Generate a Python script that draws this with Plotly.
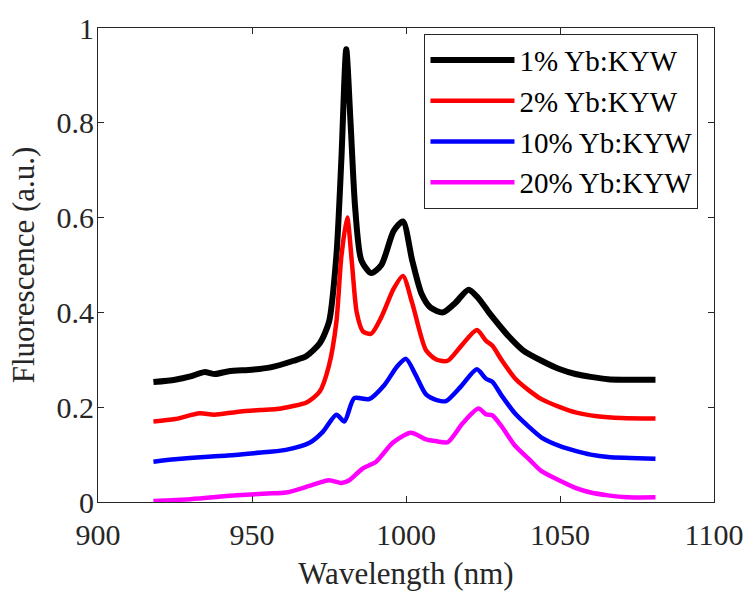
import plotly.graph_objects as go

# ---- data ----
x_1 = [918, 925, 930, 934.5, 938, 942.5, 950, 956, 963.5, 967.7, 972, 975, 977.4, 979, 980.6,
       982, 983.5, 985.5, 988.7, 992, 996, 999, 1002, 1005, 1008, 1012, 1016, 1020.3, 1023.5,
       1026.9, 1030, 1033.4, 1038, 1044, 1050, 1055, 1060, 1065.6, 1070, 1081]
y_1 = [0.253, 0.258, 0.265, 0.274, 0.270, 0.276, 0.279, 0.284, 0.298, 0.308, 0.335, 0.38, 0.52, 0.72, 0.955,
       0.80, 0.62, 0.51, 0.483, 0.50, 0.572, 0.592, 0.51, 0.44, 0.41, 0.40, 0.42, 0.448, 0.43,
       0.40, 0.375, 0.349, 0.32, 0.298, 0.28, 0.27, 0.264, 0.259, 0.258, 0.258]

x_2 = [918, 925, 933, 937.7, 945, 952.6, 958, 963, 967.7, 972, 975, 977.4, 979, 980.9, 982.5, 984,
       986, 988.7, 992, 996, 999, 1002, 1006.5, 1010, 1013.5, 1018, 1023, 1026, 1028, 1031, 1035.5,
       1040, 1044, 1050, 1055, 1062, 1070, 1081]
y_2 = [0.170, 0.175, 0.187, 0.184, 0.19, 0.194, 0.196, 0.202, 0.21, 0.233, 0.288, 0.38, 0.517, 0.60, 0.50, 0.40,
       0.36, 0.355, 0.39, 0.45, 0.477, 0.42, 0.32, 0.30, 0.298, 0.33, 0.363, 0.34, 0.33, 0.30, 0.26,
       0.235, 0.217, 0.20, 0.189, 0.181, 0.177, 0.176]

x_10 = [918, 925, 934.5, 942, 950.6, 961, 968.7, 973, 977.4, 980, 983.2, 988, 993, 997, 1000, 1003,
        1006.5, 1010, 1013, 1018, 1023, 1026, 1028, 1031, 1035.5, 1040, 1044, 1050, 1055, 1060, 1065.6, 1081]
y_10 = [0.085, 0.09, 0.095, 0.098, 0.103, 0.11, 0.125, 0.148, 0.184, 0.17, 0.219, 0.217, 0.247, 0.285, 0.302, 0.27,
        0.227, 0.215, 0.213, 0.245, 0.28, 0.26, 0.254, 0.225, 0.186, 0.158, 0.136, 0.118, 0.108, 0.10, 0.095, 0.091]

x_20 = [918, 930, 945, 955, 961, 968.7, 975, 979, 981.6, 986, 990.3, 995.7, 1001.6, 1006.5, 1010, 1013.5,
        1018.4, 1023.5, 1026, 1028, 1031, 1035.5, 1040, 1044, 1050, 1055, 1060, 1065.6, 1072, 1081]
y_20 = [0.002, 0.006, 0.014, 0.018, 0.02, 0.034, 0.046, 0.04, 0.046, 0.071, 0.085, 0.125, 0.146, 0.132, 0.128, 0.126,
        0.166, 0.197, 0.185, 0.183, 0.16, 0.118, 0.09, 0.065, 0.045, 0.03, 0.02, 0.014, 0.01, 0.01]

names = ["1% Yb:KYW", "2% Yb:KYW", "10% Yb:KYW", "20% Yb:KYW"]
colors = ["#000000", "#ff0000", "#0000ff", "#ff00ff"]
widths = [6, 4.5, 4.5, 4.5]
xs = [x_1, x_2, x_10, x_20]
ys = [y_1, y_2, y_10, y_20]

x_ticks = [900, 950, 1000, 1050, 1100]
y_ticks = [0, 0.2, 0.4, 0.6, 0.8, 1]
y_tick_text = ["0", "0.2", "0.4", "0.6", "0.8", "1"]

FONT = "Liberation Serif, Times New Roman, serif"
TXT = "#262626"

fig = go.Figure()
for i in range(4):
    fig.add_trace(go.Scatter(
        x=xs[i], y=ys[i], mode="lines", name=names[i],
        line=dict(color=colors[i], width=widths[i], shape="spline", smoothing=0.7),
    ))

axis_common = dict(
    showline=True, linecolor=TXT, linewidth=1, mirror="ticks",
    ticks="inside", ticklen=6, tickcolor=TXT, showgrid=False, zeroline=False,
    tickfont=dict(family=FONT, size=30, color=TXT),
    ticklabeloverflow="allow",
)
fig.update_xaxes(range=[900, 1100], tickvals=x_ticks, ticklabelstandoff=6,
                 title=dict(text="Wavelength (nm)", font=dict(family=FONT, size=31, color=TXT), standoff=12),
                 **axis_common)
fig.update_yaxes(range=[0, 1], tickvals=y_ticks, ticktext=y_tick_text, ticklabelstandoff=-3,
                 title=dict(text="Fluorescence (a.u.)", font=dict(family=FONT, size=31, color=TXT), standoff=12),
                 **axis_common)

fig.update_layout(
    width=754, height=596,
    margin=dict(l=98, r=33, t=11, b=91),
    plot_bgcolor="white", paper_bgcolor="white",
    font=dict(family=FONT, color=TXT),
    showlegend=True,
    legend=dict(
        x=0.53, y=0.988, xanchor="left", yanchor="top",
        bgcolor="white", bordercolor=TXT, borderwidth=1,
        font=dict(family=FONT, size=29, color="#000000"),
        traceorder="normal", itemwidth=84,
    ),
)

fig.write_html("out.html")
